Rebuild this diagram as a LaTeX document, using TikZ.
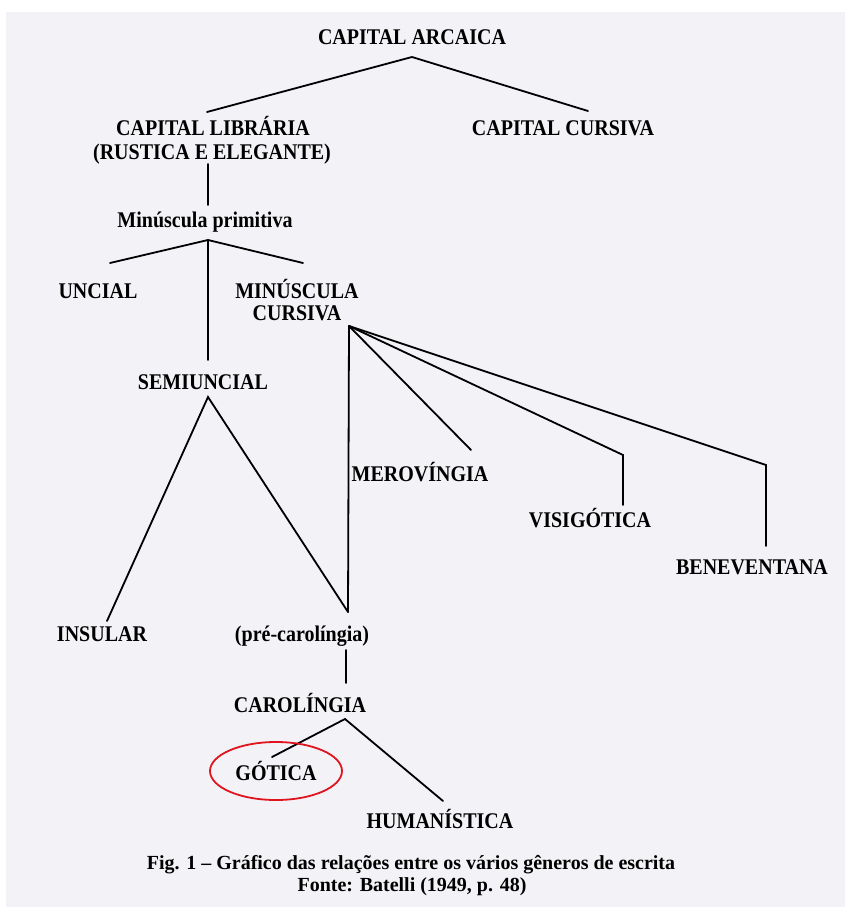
\documentclass[tikz,border=0pt]{standalone}
\usepackage{fontspec}
\setmainfont{Liberation Serif}
\definecolor{pagebg}{HTML}{F3F3F7}
\definecolor{ovalred}{HTML}{E0141E}
\begin{document}
\begin{tikzpicture}[x=1pt,y=-1pt,
  lbl/.style={anchor=base,inner sep=0pt,font=\fontsize{20}{23}\selectfont\bfseries},
  link/.style={line width=1.8pt,black,line cap=round}]
\useasboundingbox (0,0) rectangle (845,909);
\fill[white] (0,0) rectangle (845,909);
\fill[pagebg] (6,12) rectangle (845,907);
% labels
\node[lbl] (arc) at (412,45) {\scalebox{1}[1.12]{CAPITAL ARCAICA}};
\node[lbl] (lib1) at (213,136) {\scalebox{1}[1.12]{CAPITAL LIBRÁRIA}};
\node[lbl] (lib2) at (212,160) {\scalebox{1}[1.12]{(RUSTICA E ELEGANTE)}};
\node[lbl] (cur) at (563,136) {\scalebox{1}[1.12]{CAPITAL CURSIVA}};
\node[lbl] (minp) at (205,227) {\scalebox{1}[1.12]{Minúscula primitiva}};
\node[lbl] (unc) at (98,298) {\scalebox{1}[1.12]{UNCIAL}};
\node[lbl] (minc1) at (297,298) {\scalebox{1}[1.12]{MINÚSCULA}};
\node[lbl] (minc2) at (297,320) {\scalebox{1}[1.12]{CURSIVA}};
\node[lbl] (semi) at (203,389) {\scalebox{1}[1.12]{SEMIUNCIAL}};
\node[lbl] (mer) at (420,481) {\scalebox{1}[1.12]{MEROVÍNGIA}};
\node[lbl] (vis) at (590,527) {\scalebox{1}[1.12]{VISIGÓTICA}};
\node[lbl] (ben) at (752,574) {\scalebox{1}[1.12]{BENEVENTANA}};
\node[lbl] (ins) at (102,641) {\scalebox{1}[1.12]{INSULAR}};
\node[lbl] (pre) at (302,641) {\scalebox{1}[1.12]{(pré-carolíngia)}};
\node[lbl] (car) at (300,712) {\scalebox{1}[1.12]{CAROLÍNGIA}};
\node[lbl] (got) at (276,780) {\scalebox{1}[1.12]{GÓTICA}};
\node[lbl] (hum) at (440,828) {\scalebox{1}[1.12]{HUMANÍSTICA}};
\node[lbl] (cap1) at (411,869) {Fig. 1 – Gráfico das relações entre os vários gêneros de escrita};
\node[lbl] (cap2) at (412,891) {Fonte: Batelli (1949, p. 48)};
% connector points
\coordinate (a0) at (412,57);
\coordinate (a1) at (207,112);
\coordinate (a2) at (588,111);
\coordinate (l0) at (208,164);
\coordinate (l1) at (208,205);
\coordinate (m0) at (208,240);
\coordinate (m1) at (110,263);
\coordinate (m2) at (303,263);
\coordinate (m3) at (208,360);
\coordinate (s0) at (208,397);
\coordinate (s1) at (107,621);
\coordinate (s2) at (348,612);
\coordinate (c0) at (349,326);
\coordinate (c1) at (471,450);
\coordinate (c2) at (623,455);
\coordinate (c2b) at (623,505);
\coordinate (c3) at (766,465);
\coordinate (c3b) at (766,546);
\coordinate (p0) at (346,650);
\coordinate (p1) at (346,683);
\coordinate (k0) at (345,719);
\coordinate (k1) at (272,757);
\coordinate (k2) at (443,801);
% connectors
\draw[link] (a1) -- (a0) -- (a2);
\draw[link] (l0) -- (l1);
\draw[link] (m1) -- (m0) -- (m2);
\draw[link] (m0) -- (m3);
\draw[link] (s1) -- (s0) -- (s2);
\draw[link] (c0) -- (s2);
\draw[link] (c0) -- (c1);
\draw[link] (c0) -- (c2) -- (c2b);
\draw[link] (c0) -- (c3) -- (c3b);
\draw[link] (p0) -- (p1);
\draw[link] (k1) -- (k0) -- (k2);
% red oval
\draw[ovalred,line width=1.8pt] (276,771) ellipse [x radius=66,y radius=29];
\end{tikzpicture}
\end{document}
